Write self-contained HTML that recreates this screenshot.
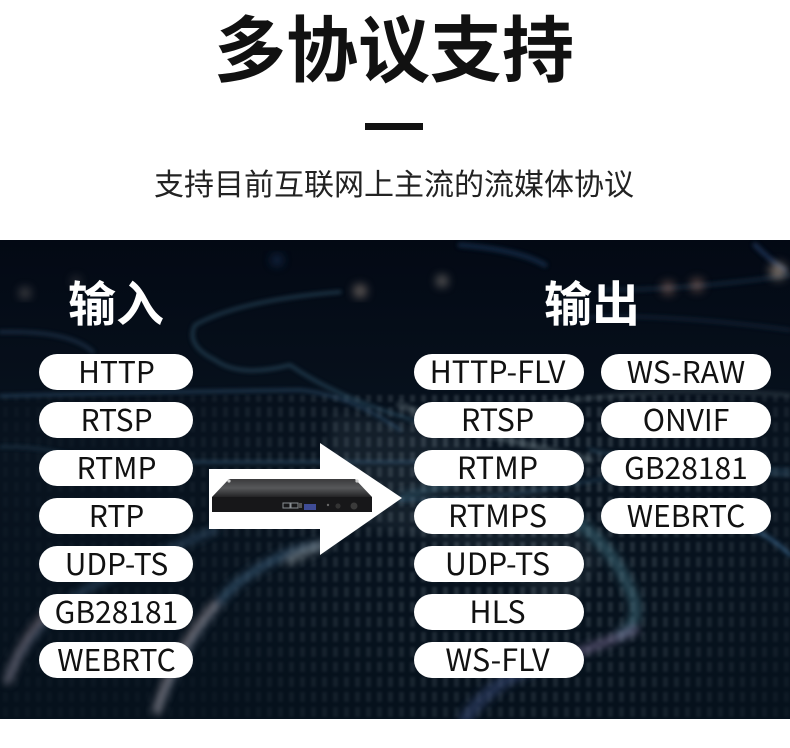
<!DOCTYPE html>
<html><head><meta charset="utf-8">
<style>
html,body{margin:0;padding:0;background:#fff}
#p{position:relative;width:790px;height:748px;overflow:hidden;background:#fff;font-family:"Liberation Sans","Noto Sans CJK SC",sans-serif}
.t{position:absolute;white-space:nowrap;text-align:center;font-family:"Noto Sans CJK SC",sans-serif}
.pl{position:absolute;height:36px;line-height:32px;background:#fff;border-radius:18px;text-align:center;color:#111;font-size:30px;font-weight:400;font-family:"Noto Sans CJK SC","Liberation Sans",sans-serif;white-space:nowrap}
.a{left:39px;width:154px;text-indent:1px}.b{left:414px;width:170px;text-indent:-3px;font-size:30.5px}.c{left:601px;width:170px}
svg{position:absolute;left:0;top:0}
</style></head><body><div id="p">
<div class="t" style="left:194px;width:400px;top:-2px;font-size:72px;line-height:94px;font-weight:700;color:#111">多协议支持</div>
<div style="position:absolute;left:365px;top:123px;width:58px;height:7px;background:#111"></div>
<div class="t" style="left:94px;width:600px;top:160px;font-size:30px;line-height:44px;color:#222;font-weight:400">支持目前互联网上主流的流媒体协议</div>
<svg width="790" height="748" viewBox="0 0 790 748">
<defs>
<linearGradient id="bg" x1="0" y1="0" x2="0" y2="1"><stop offset="0" stop-color="#030914"/><stop offset=".45" stop-color="#08131f"/><stop offset="1" stop-color="#06111c"/></linearGradient>
<pattern id="d" width="11" height="15" patternUnits="userSpaceOnUse"><rect x="3" y="2" width="5" height="10" fill="#a8b8c0"/></pattern>
<radialGradient id="fade" gradientUnits="userSpaceOnUse" cx="520" cy="480" r="380"><stop offset="0" stop-color="#fff" stop-opacity=".85"/><stop offset=".55" stop-color="#fff" stop-opacity=".45"/><stop offset="1" stop-color="#fff" stop-opacity=".12"/></radialGradient>
<mask id="m"><rect x="0" y="240" width="790" height="479" fill="url(#fade)"/></mask>
<filter id="b1"><feGaussianBlur stdDeviation="2"/></filter>
<filter id="b15"><feGaussianBlur stdDeviation="4"/></filter>
<filter id="b2"><feGaussianBlur stdDeviation="5"/></filter>
<filter id="dotb"><feGaussianBlur stdDeviation="1.2"/></filter>
<clipPath id="cp"><rect x="0" y="240" width="790" height="479"/></clipPath>
<linearGradient id="top" x1="0" y1="0" x2="0" y2="1"><stop offset="0" stop-color="#3a3a3c"/><stop offset=".5" stop-color="#57585a"/><stop offset="1" stop-color="#232325"/></linearGradient>
</defs>
<rect x="0" y="240" width="790" height="479" fill="url(#bg)"/>
<g clip-path="url(#cp)">
<g mask="url(#m)" opacity=".28" filter="url(#dotb)"><rect x="0" y="395" width="790" height="324" fill="url(#d)"/></g>
<path d="M330 415 Q450 420 540 480 L600 560 L560 625 Q500 540 330 520Z" fill="#9fb2ba" opacity=".08" filter="url(#b2)"/>
<g fill="none" stroke-linecap="round" filter="url(#b1)">
<path d="M0 332 Q70 330 93 352" stroke="#2c4a68" stroke-width="3" opacity=".6"/>
<path d="M0 396 Q150 392 300 390 Q350 395 400 430" stroke="#34587a" stroke-width="2.5" opacity=".7"/>
<path d="M340 292 Q240 300 195 325 Q185 345 215 360 Q240 378 290 365 Q340 400 430 425" stroke="#3c6680" stroke-width="3" opacity=".55"/>
<path d="M0 447 Q50 445 100 465" stroke="#33566e" stroke-width="2" opacity=".6"/>
<path d="M190 462 Q300 462 420 462" stroke="#3f6a8a" stroke-width="2.5" opacity=".6"/>
<path d="M400 405 Q460 430 590 460" stroke="#8f9ea6" stroke-width="7" opacity=".3"/>
<path d="M540 405 Q660 385 790 395" stroke="#6f7f88" stroke-width="3" opacity=".35"/>
<path d="M590 450 Q690 470 790 475" stroke="#3f6a84" stroke-width="3" opacity=".5"/>
<path d="M400 500 Q480 500 540 490 Q660 465 790 470" stroke="#3f7090" stroke-width="3" opacity=".35"/>
<path d="M735 525 Q765 530 790 555" stroke="#3f6f9a" stroke-width="4" opacity=".6"/>
<path d="M460 245 Q520 250 545 265" stroke="#24406a" stroke-width="5" opacity=".5"/>
<path d="M755 245 Q770 260 785 270" stroke="#24406a" stroke-width="5" opacity=".6"/>
<path d="M600 290 Q690 290 790 275" stroke="#1e3550" stroke-width="4" opacity=".5"/>
<path d="M560 320 Q640 310 790 330" stroke="#1e3550" stroke-width="3" opacity=".5"/>
</g>
<g fill="none" stroke-linecap="round" filter="url(#b15)">
<path d="M560 510 Q610 540 630 590 Q645 620 620 635" stroke="#4a7f90" stroke-width="11" opacity=".5"/>
<path d="M8 680 Q25 630 85 590 Q140 560 215 530" stroke="#3e5f80" stroke-width="7" opacity=".5"/>
<path d="M8 680 Q22 640 45 615" stroke="#a08a90" stroke-width="9" opacity=".4"/>
<path d="M157 710 Q185 635 235 585 Q280 550 320 545" stroke="#47708e" stroke-width="8" opacity=".55"/>
<path d="M157 710 Q175 650 215 605" stroke="#b29a98" stroke-width="9" opacity=".45"/>
<path d="M290 560 Q310 548 325 545" stroke="#8d969a" stroke-width="10" opacity=".5"/>
<path d="M400 497 Q430 490 460 480" stroke="#4a86a0" stroke-width="4" opacity=".6"/>
<path d="M635 630 Q600 645 570 655" stroke="#8e7ea8" stroke-width="8" opacity=".55"/>
<path d="M570 655 Q500 670 465 719" stroke="#3d4f80" stroke-width="13" opacity=".5"/>
</g>
<g filter="url(#b2)">
<circle cx="25" cy="293" r="5" fill="#d9c8b8" opacity=".4"/>
<circle cx="76" cy="281" r="4" fill="#d9c8b8" opacity=".3"/>
<circle cx="360" cy="291" r="6" fill="#e0c4ae" opacity=".55"/>
<circle cx="442" cy="281" r="5" fill="#e0d0c0" opacity=".6"/>
<circle cx="668" cy="288" r="6" fill="#e0a088" opacity=".5"/>
<circle cx="697" cy="285" r="6" fill="#e0a088" opacity=".5"/>
<circle cx="778" cy="271" r="8" fill="#d8c0a8" opacity=".6"/>
<circle cx="277" cy="260" r="5" fill="#2f5a9e" opacity=".5"/>
</g>
</g>
<polygon points="209,469 320,469 320,443 402,498 320,555 320,529 209,529" fill="#fff"/>
<polygon points="229,479 355,479 372,497 212,497" fill="url(#top)"/>
<rect x="212" y="497" width="160" height="15" fill="#171719"/>
<circle cx="229" cy="481" r="1.6" fill="#ccc"/><circle cx="357" cy="481" r="1.6" fill="#ccc"/>
<rect x="283" y="503" width="7" height="5" fill="none" stroke="#8a8f94" stroke-width="1"/>
<rect x="291" y="503" width="7" height="5" fill="none" stroke="#8a8f94" stroke-width="1"/>
<rect x="299" y="503" width="3" height="5" fill="#555"/>
<rect x="304" y="504" width="12" height="6" fill="#3f4c96"/>
<circle cx="328" cy="505" r="1.2" fill="#666"/>
<circle cx="338" cy="506" r="2.6" fill="#333"/>
<circle cx="354" cy="506" r="3.5" fill="#3a3a3a"/>
</svg>
<div class="t" style="left:39px;width:154px;top:266px;font-size:48px;line-height:68px;font-weight:700;color:#fff">输入</div>
<div class="t" style="left:492px;width:200px;top:266px;font-size:48px;line-height:68px;font-weight:700;color:#fff">输出</div>
<div class="pl a" style="top:354px">HTTP</div>
<div class="pl a" style="top:402px">RTSP</div>
<div class="pl a" style="top:450px">RTMP</div>
<div class="pl a" style="top:498px">RTP</div>
<div class="pl a" style="top:546px">UDP-TS</div>
<div class="pl a" style="top:594px">GB28181</div>
<div class="pl a" style="top:642px">WEBRTC</div>
<div class="pl b" style="top:354px">HTTP-FLV</div>
<div class="pl b" style="top:402px">RTSP</div>
<div class="pl b" style="top:450px">RTMP</div>
<div class="pl b" style="top:498px">RTMPS</div>
<div class="pl b" style="top:546px">UDP-TS</div>
<div class="pl b" style="top:594px">HLS</div>
<div class="pl b" style="top:642px">WS-FLV</div>
<div class="pl c" style="top:354px">WS-RAW</div>
<div class="pl c" style="top:402px">ONVIF</div>
<div class="pl c" style="top:450px">GB28181</div>
<div class="pl c" style="top:498px">WEBRTC</div>
</div></body></html>
